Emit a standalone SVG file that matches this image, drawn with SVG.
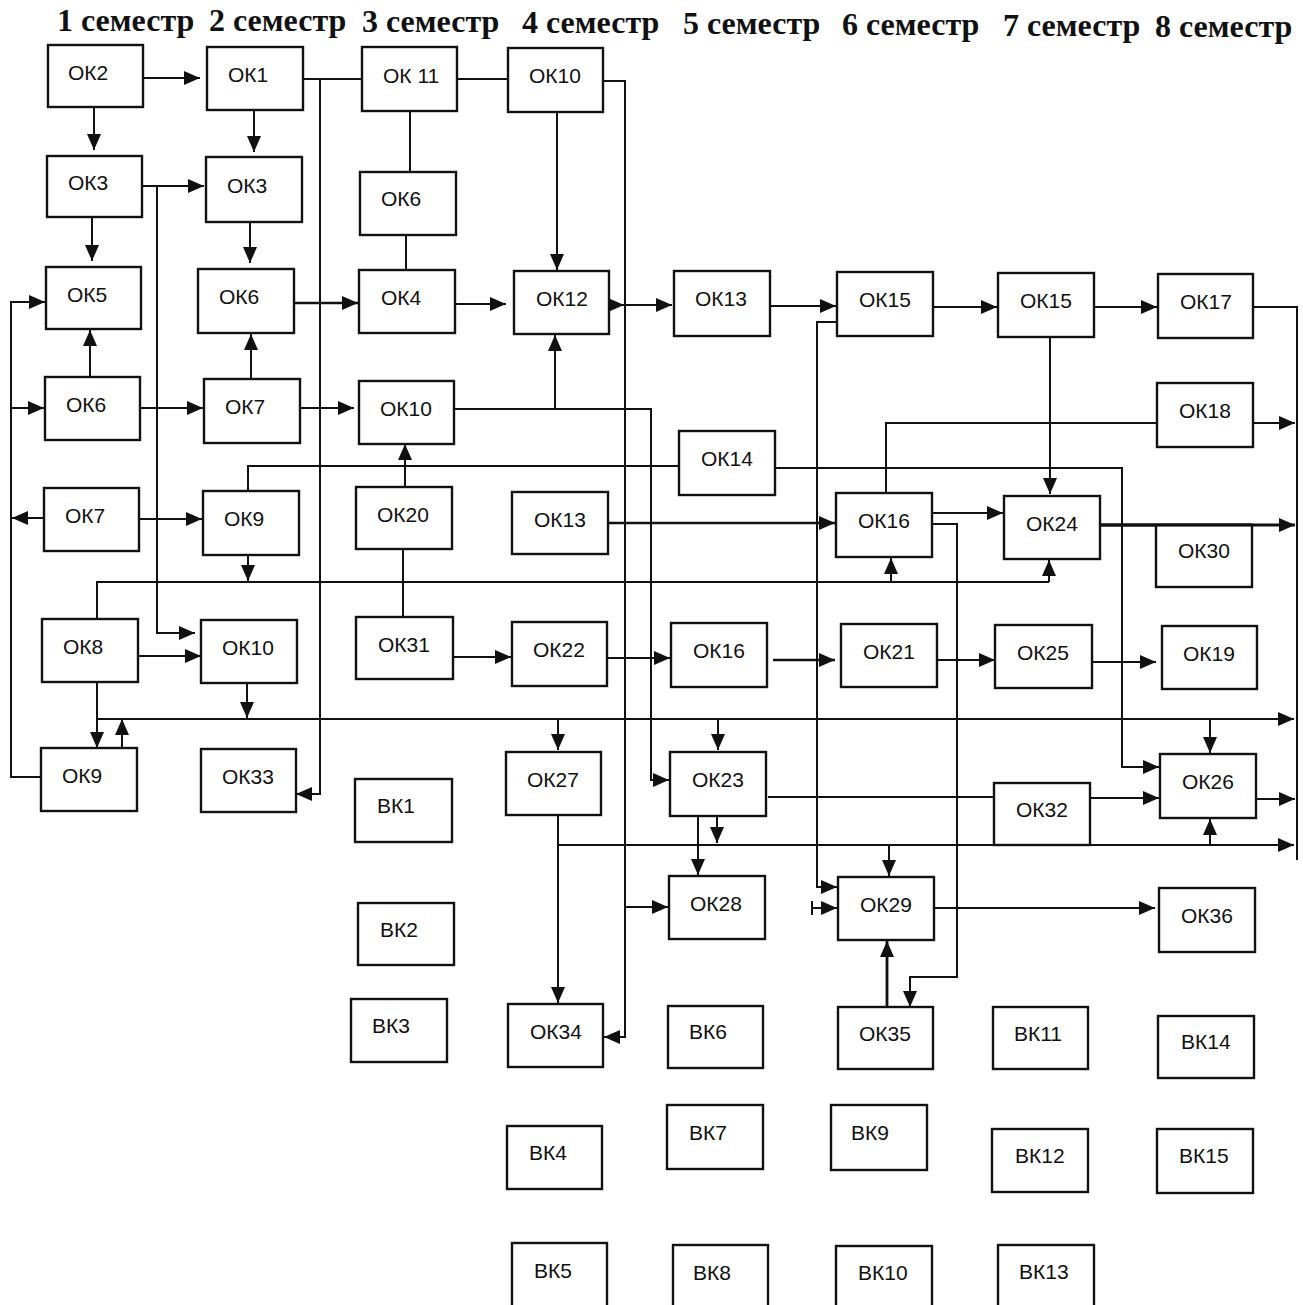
<svg xmlns="http://www.w3.org/2000/svg" width="1303" height="1305" viewBox="0 0 1303 1305">
<defs>
<style>
.b{fill:#fff;stroke:#111;stroke-width:2.4}
.t{font-family:"Liberation Sans",Arial,sans-serif;font-size:21px;fill:#111}
.h{font-family:"Liberation Serif","Times New Roman",serif;font-weight:bold;font-size:32px;fill:#111}
.c{fill:none;stroke:#111;stroke-width:2}
.a{marker-end:url(#ah)}
</style>
<marker id="ah" viewBox="0 0 16 14" refX="16" refY="7" markerWidth="16" markerHeight="14" orient="auto" markerUnits="userSpaceOnUse"><path d="M0,0L16,7L0,14z" fill="#111"/></marker>
</defs>
<rect width="1303" height="1305" fill="#fff"/>
<g id="headers">
<text class="h" x="57" y="31">1 семестр</text>
<text class="h" x="209" y="31">2 семестр</text>
<text class="h" x="362" y="32">3 семестр</text>
<text class="h" x="522" y="33">4 семестр</text>
<text class="h" x="683" y="34">5 семестр</text>
<text class="h" x="842" y="35">6 семестр</text>
<text class="h" x="1003" y="36">7 семестр</text>
<text class="h" x="1155" y="37">8 семестр</text>
</g>
<g id="connectors">
<path class="c a" d="M143,78H200"/>
<path class="c a" d="M94,107V150"/>
<path class="c a" d="M254,110V152"/>
<path class="c" d="M303,79H362"/>
<path class="c a" d="M320,79V794H296"/>
<path class="c" d="M457,79H508"/>
<path class="c" d="M410,111V172"/>
<path class="c" d="M406,235V270"/>
<path class="c a" d="M557,112V270"/>
<path class="c a" d="M603,81H625V1037H604"/>
<path class="c a" d="M625,907H668"/>
<path class="c a" d="M609,305H624"/>
<path class="c a" d="M624,305H672"/>
<path class="c a" d="M142,186H204"/>
<path class="c a" d="M157,186V633H195"/>
<path class="c a" d="M92,217V261"/>
<path class="c a" d="M250,222V263"/>
<path class="c a" style="stroke-width:2.6" d="M294,303H358"/>
<path class="c a" d="M455,304H506"/>
<path class="c a" d="M90,377V330"/>
<path class="c a" d="M251,379V334"/>
<path class="c a" d="M140,408H203"/>
<path class="c a" d="M300,408H354"/>
<path class="c a" d="M41,777H11V302H45"/>
<path class="c a" d="M11,408H44"/>
<path class="c a" d="M44,518H12"/>
<path class="c a" d="M139,519H202"/>
<path class="c" d="M248,491V466H679"/>
<path class="c a" d="M775,468H1122V767H1159"/>
<path class="c" d="M97,619V582H1049"/>
<path class="c a" d="M1049,582V560"/>
<path class="c a" d="M891,582V558"/>
<path class="c a" d="M248,555V581"/>
<path class="c a" d="M405,487V444"/>
<path class="c" d="M403,549V617"/>
<path class="c a" d="M453,657H511"/>
<path class="c a" d="M607,658H670"/>
<path class="c a" style="stroke-width:2.6" d="M773,660H835"/>
<path class="c a" d="M937,660H995"/>
<path class="c a" d="M1092,662H1156"/>
<path class="c a" d="M138,656H201"/>
<path class="c a" d="M247,683V718"/>
<path class="c a" d="M97,682V748"/>
<path class="c a" d="M122,748V719"/>
<path class="c a" d="M97,719H1294"/>
<path class="c a" d="M558,719V750"/>
<path class="c a" d="M718,719V750"/>
<path class="c a" d="M1210,719V753"/>
<path class="c a" d="M454,409H651V780H669"/>
<path class="c a" d="M555,409V335"/>
<path class="c a" style="stroke-width:2.6" d="M608,523H835"/>
<path class="c a" d="M837,322H817V887H837"/>
<path class="c" d="M812,901V915"/>
<path class="c a" d="M812,908H837"/>
<path class="c a" d="M770,306H836"/>
<path class="c a" d="M933,307H997"/>
<path class="c a" d="M1094,307H1157"/>
<path class="c" d="M1253,307H1297V860"/>
<path class="c a" d="M1050,337V494"/>
<path class="c" d="M1157,423H886V493"/>
<path class="c a" d="M1253,423H1295"/>
<path class="c a" d="M932,513H1003"/>
<path class="c a" d="M932,524H957V977H910V1007"/>
<path class="c a" style="stroke-width:2.8" d="M1100,525H1295"/>
<path class="c a" d="M1256,799H1295"/>
<path class="c" d="M768,797H994"/>
<path class="c a" d="M1090,798H1159"/>
<path class="c a" d="M698,816V875"/>
<path class="c a" d="M717,816V843"/>
<path class="c a" d="M558,815V1003"/>
<path class="c a" d="M558,845H1294"/>
<path class="c a" d="M889,845V876"/>
<path class="c a" d="M1210,845V819"/>
<path class="c a" style="stroke-width:2.8" d="M887,1007V941"/>
<path class="c a" d="M934,908H1155"/>
</g>
<g id="n-ok2"><rect class="b" x="48" y="45" width="95" height="62"/><text class="t" x="68" y="80">ОК2</text></g>
<g id="n-ok3a"><rect class="b" x="47" y="156" width="95" height="61"/><text class="t" x="68" y="190">ОК3</text></g>
<g id="n-ok5"><rect class="b" x="46" y="267" width="95" height="62"/><text class="t" x="67" y="302">ОК5</text></g>
<g id="n-ok6a"><rect class="b" x="45" y="377" width="95" height="63"/><text class="t" x="66" y="412">ОК6</text></g>
<g id="n-ok7a"><rect class="b" x="44" y="488" width="95" height="63"/><text class="t" x="65" y="523">ОК7</text></g>
<g id="n-ok8"><rect class="b" x="42" y="619" width="96" height="63"/><text class="t" x="63" y="654">ОК8</text></g>
<g id="n-ok9a"><rect class="b" x="41" y="748" width="96" height="63"/><text class="t" x="62" y="783">ОК9</text></g>
<g id="n-ok1"><rect class="b" x="207" y="47" width="96" height="63"/><text class="t" x="228" y="82">ОК1</text></g>
<g id="n-ok3b"><rect class="b" x="206" y="157" width="96" height="65"/><text class="t" x="227" y="193">ОК3</text></g>
<g id="n-ok6b"><rect class="b" x="198" y="269" width="96" height="64"/><text class="t" x="219" y="304">ОК6</text></g>
<g id="n-ok7b"><rect class="b" x="204" y="379" width="96" height="64"/><text class="t" x="225" y="414">ОК7</text></g>
<g id="n-ok9b"><rect class="b" x="203" y="491" width="96" height="64"/><text class="t" x="224" y="526">ОК9</text></g>
<g id="n-ok10b"><rect class="b" x="201" y="620" width="96" height="63"/><text class="t" x="222" y="655">ОК10</text></g>
<g id="n-ok33"><rect class="b" x="201" y="749" width="95" height="63"/><text class="t" x="222" y="784">ОК33</text></g>
<g id="n-ok11"><rect class="b" x="362" y="47" width="95" height="64"/><text class="t" x="383" y="83">ОК 11</text></g>
<g id="n-ok6c"><rect class="b" x="360" y="172" width="96" height="63"/><text class="t" x="381" y="206">ОК6</text></g>
<g id="n-ok4"><rect class="b" x="359" y="270" width="96" height="63"/><text class="t" x="381" y="305">ОК4</text></g>
<g id="n-ok10c"><rect class="b" x="359" y="381" width="95" height="63"/><text class="t" x="380" y="416">ОК10</text></g>
<g id="n-ok20"><rect class="b" x="356" y="487" width="96" height="62"/><text class="t" x="377" y="522">ОК20</text></g>
<g id="n-ok31"><rect class="b" x="356" y="617" width="97" height="62"/><text class="t" x="378" y="652">ОК31</text></g>
<g id="n-vk1"><rect class="b" x="355" y="779" width="97" height="63"/><text class="t" x="377" y="813">ВК1</text></g>
<g id="n-vk2"><rect class="b" x="358" y="903" width="96" height="62"/><text class="t" x="380" y="937">ВК2</text></g>
<g id="n-vk3"><rect class="b" x="351" y="999" width="96" height="63"/><text class="t" x="372" y="1033">ВК3</text></g>
<g id="n-ok10d"><rect class="b" x="508" y="48" width="95" height="64"/><text class="t" x="529" y="83">ОК10</text></g>
<g id="n-ok12"><rect class="b" x="514" y="271" width="95" height="63"/><text class="t" x="536" y="306">ОК12</text></g>
<g id="n-ok13d"><rect class="b" x="512" y="492" width="96" height="62"/><text class="t" x="534" y="527">ОК13</text></g>
<g id="n-ok22"><rect class="b" x="512" y="622" width="95" height="64"/><text class="t" x="533" y="657">ОК22</text></g>
<g id="n-ok27"><rect class="b" x="506" y="752" width="95" height="63"/><text class="t" x="527" y="787">ОК27</text></g>
<g id="n-ok34"><rect class="b" x="508" y="1004" width="95" height="63"/><text class="t" x="530" y="1039">ОК34</text></g>
<g id="n-vk4"><rect class="b" x="507" y="1126" width="95" height="63"/><text class="t" x="529" y="1160">ВК4</text></g>
<g id="n-vk5"><rect class="b" x="512" y="1243" width="95" height="72"/><text class="t" x="534" y="1278">ВК5</text></g>
<g id="n-ok13e"><rect class="b" x="674" y="271" width="96" height="65"/><text class="t" x="695" y="306">ОК13</text></g>
<g id="n-ok14"><rect class="b" x="679" y="431" width="96" height="64"/><text class="t" x="701" y="466">ОК14</text></g>
<g id="n-ok16e"><rect class="b" x="671" y="623" width="96" height="64"/><text class="t" x="693" y="658">ОК16</text></g>
<g id="n-ok23"><rect class="b" x="670" y="752" width="96" height="64"/><text class="t" x="692" y="787">ОК23</text></g>
<g id="n-ok28"><rect class="b" x="669" y="876" width="96" height="63"/><text class="t" x="690" y="911">ОК28</text></g>
<g id="n-vk6"><rect class="b" x="668" y="1006" width="95" height="62"/><text class="t" x="689" y="1039">ВК6</text></g>
<g id="n-vk7"><rect class="b" x="667" y="1105" width="96" height="64"/><text class="t" x="689" y="1140">ВК7</text></g>
<g id="n-vk8"><rect class="b" x="673" y="1245" width="95" height="72"/><text class="t" x="693" y="1280">ВК8</text></g>
<g id="n-ok15f"><rect class="b" x="837" y="272" width="96" height="64"/><text class="t" x="859" y="307">ОК15</text></g>
<g id="n-ok16f"><rect class="b" x="836" y="493" width="96" height="64"/><text class="t" x="858" y="528">ОК16</text></g>
<g id="n-ok21"><rect class="b" x="841" y="624" width="96" height="63"/><text class="t" x="863" y="659">ОК21</text></g>
<g id="n-ok29"><rect class="b" x="838" y="877" width="96" height="63"/><text class="t" x="860" y="912">ОК29</text></g>
<g id="n-ok35"><rect class="b" x="838" y="1007" width="95" height="62"/><text class="t" x="859" y="1041">ОК35</text></g>
<g id="n-vk9"><rect class="b" x="831" y="1105" width="96" height="65"/><text class="t" x="851" y="1140">ВК9</text></g>
<g id="n-vk10"><rect class="b" x="836" y="1246" width="96" height="72"/><text class="t" x="858" y="1280">ВК10</text></g>
<g id="n-ok15g"><rect class="b" x="998" y="273" width="96" height="64"/><text class="t" x="1020" y="308">ОК15</text></g>
<g id="n-ok24"><rect class="b" x="1004" y="496" width="96" height="63"/><text class="t" x="1026" y="531">ОК24</text></g>
<g id="n-ok25"><rect class="b" x="995" y="625" width="97" height="63"/><text class="t" x="1017" y="660">ОК25</text></g>
<g id="n-ok32"><rect class="b" x="994" y="783" width="96" height="62"/><text class="t" x="1016" y="817">ОК32</text></g>
<g id="n-vk11"><rect class="b" x="993" y="1007" width="95" height="62"/><text class="t" x="1014" y="1041">ВК11</text></g>
<g id="n-vk12"><rect class="b" x="992" y="1129" width="96" height="63"/><text class="t" x="1015" y="1163">ВК12</text></g>
<g id="n-vk13"><rect class="b" x="998" y="1245" width="96" height="72"/><text class="t" x="1019" y="1279">ВК13</text></g>
<g id="n-ok17"><rect class="b" x="1158" y="274" width="95" height="64"/><text class="t" x="1180" y="309">ОК17</text></g>
<g id="n-ok18"><rect class="b" x="1157" y="383" width="96" height="64"/><text class="t" x="1179" y="418">ОК18</text></g>
<g id="n-ok30"><rect class="b" x="1156" y="525" width="96" height="62"/><text class="t" x="1178" y="558">ОК30</text></g>
<g id="n-ok19"><rect class="b" x="1162" y="626" width="95" height="63"/><text class="t" x="1183" y="661">ОК19</text></g>
<g id="n-ok26"><rect class="b" x="1160" y="754" width="96" height="64"/><text class="t" x="1182" y="789">ОК26</text></g>
<g id="n-ok36"><rect class="b" x="1159" y="888" width="96" height="64"/><text class="t" x="1181" y="923">ОК36</text></g>
<g id="n-vk14"><rect class="b" x="1158" y="1016" width="96" height="62"/><text class="t" x="1181" y="1049">ВК14</text></g>
<g id="n-vk15"><rect class="b" x="1157" y="1129" width="96" height="64"/><text class="t" x="1179" y="1163">ВК15</text></g>
<path class="c" style="stroke-width:2.8" d="M1100,525H1252"/>
</svg>
